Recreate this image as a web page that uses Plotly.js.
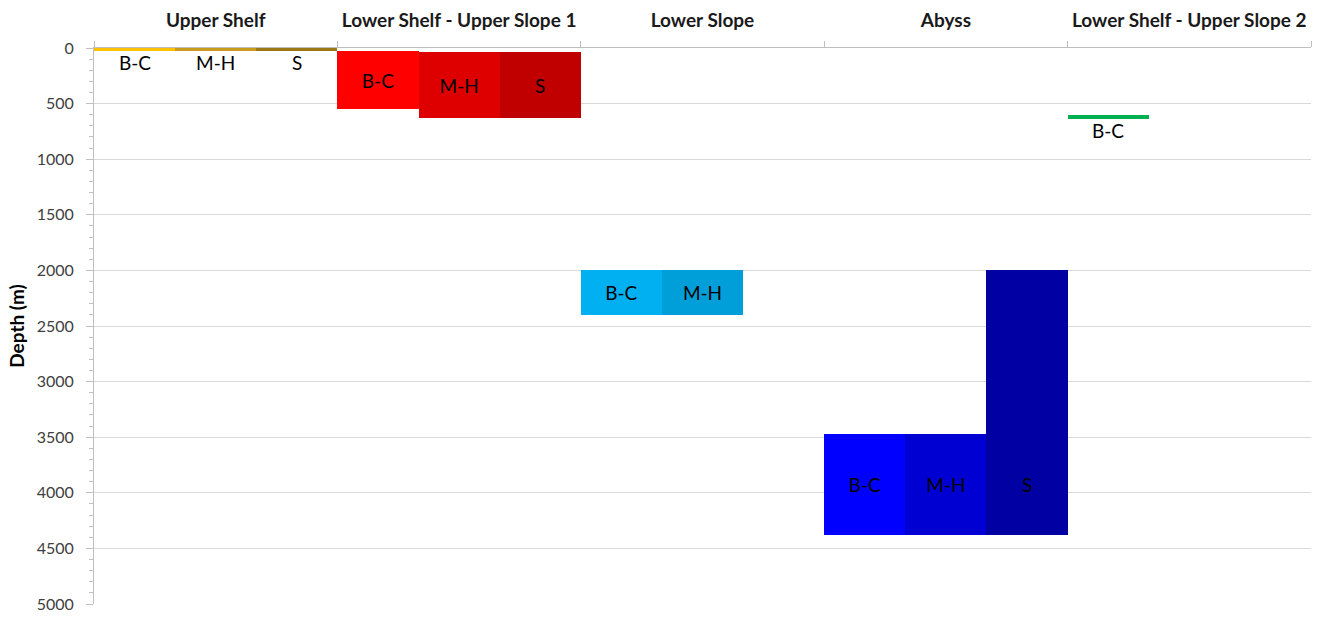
<!DOCTYPE html>
<html>
<head>
<meta charset="utf-8">
<script src="https://cdn.plot.ly/plotly-3.0.1.min.js"></script>
<style>
  html, body { margin: 0; padding: 0; background: #ffffff; }
  #chart { width: 1333px; height: 617px; }
</style>
</head>
<body>
<div id="chart"></div>
<script>
// Depth zones (top of each column)
const zones = ['Upper Shelf', 'Lower Shelf - Upper Slope 1', 'Lower Slope', 'Abyss', 'Lower Shelf - Upper Slope 2'];
const groups = ['B-C', 'M-H', 'S'];

// Depth ranges in metres for each species group, per zone (null = absent)
const bcTop    = [0,   30,  2000, 3470, 600];
const bcBottom = [30,  550, 2400, 4380, 640];
const mhTop    = [0,   40,  2000, 3470, null];
const mhBottom = [30,  630, 2400, 4380, null];
const sTop     = [0,   40,  null, 2000, null];
const sBottom  = [30,  630, null, 4380, null];

// Fill colours per zone for each group
const bcColors = ['#FFC000', '#FF0000', '#00B0F0', '#0000FF', '#00B050'];
const mhColors = ['#C99C1E', '#DE0000', '#009FD9', '#0000D2', '#000000'];
const sColors  = ['#9B7716', '#C00000', '#000000', '#0000A3', '#000000'];

const labelFont = { family: 'Lato, sans-serif', size: 19, color: '#000000' };
const THIN = 100;           // ranges thinner than this are labelled underneath
const abyss = zones.indexOf('Abyss');

function spans(top, bottom) {
  return top.map((t, i) => (t === null || bottom[i] === null) ? null : bottom[i] - t);
}

const annotations = [];

function makeTrace(gi, top, bottom, colors) {
  const name = groups[gi];
  const len = spans(top, bottom);
  const text = len.map((v, i) => {
    if (v === null) return '';
    if (v < THIN) {
      // label sits just below the thin bar
      annotations.push({
        x: i + (gi - 1) / 3, y: bottom[i], xref: 'x', yref: 'y',
        yanchor: 'top', yshift: 2, text: name, showarrow: false, font: labelFont
      });
      return '';
    }
    if (name === 'S' && i === abyss) {
      // the tall Abyss "S" column is labelled level with its neighbours
      annotations.push({
        x: i + (gi - 1) / 3, y: (mhTop[i] + bottom[i]) / 2, xref: 'x', yref: 'y',
        text: name, showarrow: false, font: labelFont
      });
      return '';
    }
    return name;
  });
  return {
    type: 'bar',
    name: name,
    x: zones,
    y: len,
    base: top.map(t => t === null ? 0 : t),
    marker: { color: colors, line: { width: 0 } },
    text: text,
    textposition: 'inside',
    insidetextanchor: 'middle',
    textangle: 0,
    constraintext: 'none',
    insidetextfont: labelFont,
    hoverinfo: 'skip',
    showlegend: false
  };
}

const data = [
  makeTrace(0, bcTop, bcBottom, bcColors),
  makeTrace(1, mhTop, mhBottom, mhColors),
  makeTrace(2, sTop, sBottom, sColors)
];

const layout = {
  width: 1333,
  height: 617,
  margin: { l: 94, r: 22, t: 48, b: 13 },
  paper_bgcolor: '#ffffff',
  plot_bgcolor: '#ffffff',
  barmode: 'group',
  bargap: 0,
  bargroupgap: 0,
  font: { family: 'Lato, sans-serif', size: 16, color: '#404040' },
  annotations: annotations,
  xaxis: {
    side: 'top',
    type: 'category',
    showgrid: false,
    showline: true,
    linecolor: '#BFBFBF',
    linewidth: 1,
    ticks: 'outside',
    tickson: 'boundaries',
    ticklen: 6,
    tickcolor: '#BFBFBF',
    tickangle: 0,
    ticklabelstandoff: 12,
    tickfont: { family: 'Lato, sans-serif', size: 19, color: '#1a1a1a', weight: 'bold' },
    zeroline: false,
    fixedrange: true
  },
  yaxis: {
    range: [5000, 0],
    tickmode: 'linear',
    tick0: 0,
    dtick: 500,
    showgrid: true,
    gridcolor: '#D9D9D9',
    gridwidth: 1,
    showline: true,
    linecolor: '#BFBFBF',
    linewidth: 1,
    ticks: 'outside',
    ticklen: 7,
    tickcolor: '#BFBFBF',
    ticklabelstandoff: 9,
    minor: { dtick: 100, ticks: 'outside', ticklen: 4, tickcolor: '#BFBFBF', showgrid: false },
    tickfont: { family: 'Lato, sans-serif', size: 16, color: '#404040' },
    zeroline: false,
    title: { text: 'Depth (m)', font: { family: 'Lato, sans-serif', size: 19, color: '#000000', weight: 'bold' }, standoff: 7 },
    fixedrange: true
  }
};

Plotly.newPlot('chart', data, layout, { displayModeBar: false, staticPlot: true });
</script>
</body>
</html>
